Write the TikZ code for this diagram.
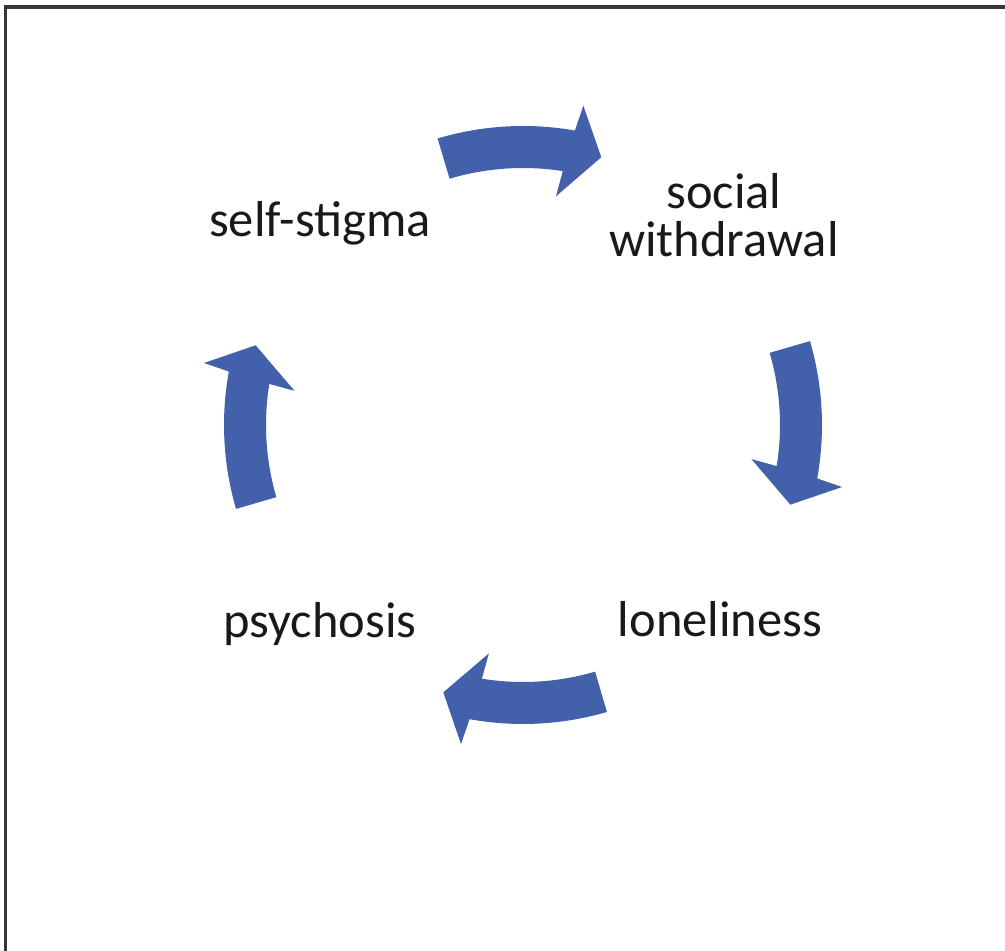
\documentclass[tikz,border=0pt]{standalone}
\usepackage{fontspec}
\setmainfont{Carlito}
\usetikzlibrary{calc}
\definecolor{cycleblue}{RGB}{66,97,170}
\definecolor{frameline}{RGB}{55,55,55}
\definecolor{labelink}{RGB}{25,25,25}
\tikzset{
  label text/.style={font=\fontsize{50.5}{48}\selectfont, text=labelink, inner sep=0pt, align=center},
}
% curved block arrow centred at angle #1 on the ring, running clockwise
\newcommand{\ringarrow}[2]{%
  \fill[cycleblue, shift={(523,526)}]
    ({#1+16.3}:299) arc[start angle={#1+16.3}, end angle={#1-10.3}, radius=299]
    -- ({#1-11}:325) -- ({#1-16.6}:279) -- ({#1-8.5}:231) -- ({#1-9.2}:257)
    arc[start angle={#1-9.2}, end angle={#1+16.3}, radius=257] -- cycle;
  \coordinate (#2) at ($(523,526)+(#1:278)$);
}
\begin{document}
\begin{tikzpicture}[x=1pt, y=1pt]
  \useasboundingbox (0,0) rectangle (1005,951);
  % frame (top and left edges)
  \draw[frameline, line width=3.5pt] (5.5,-5) -- (5.5,944) -- (1010,944);

  % cycle arrows
  \ringarrow{90.3}{a1}
  \ringarrow{0}{a2}
  \ringarrow{-90}{a3}
  \ringarrow{180}{a4}

  % labels
  \node[label text, anchor=base] (stigma) at (320,714) {self-stigma};
  \node[label text, anchor=base] (withdrawal) at (724,694) {social\\withdrawal};
  \node[label text, anchor=base] (loneliness) at (720,314) {loneliness};
  \node[label text, anchor=base] (psychosis) at (320,313) {psychosis};
\end{tikzpicture}
\end{document}
